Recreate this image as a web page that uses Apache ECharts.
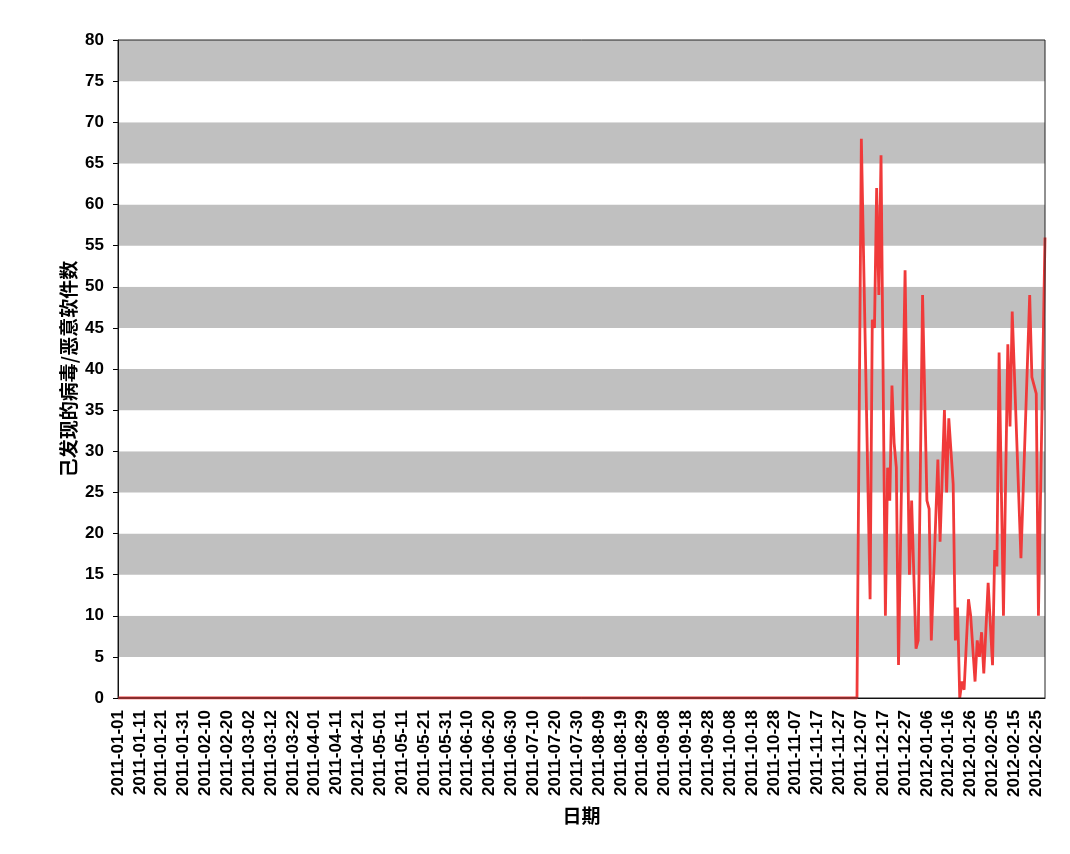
<!DOCTYPE html>
<html>
<head>
<meta charset="utf-8">
<script src="https://cdn.jsdelivr.net/npm/echarts@6/dist/echarts.min.js"></script>
<style>
  html, body { margin: 0; padding: 0; background: #ffffff; }
  #chart { width: 1070px; height: 854px; }
</style>
</head>
<body>
<div id="chart"></div>
<script>
// Axis range (daily categories)
const startDate = '2011-01-01';
const endDate = '2012-02-29';
const labelEveryDays = 10;

// Vertices of the line (date, count)
const pointDates = [
  '2011-01-01', '2011-12-05', '2011-12-07', '2011-12-11', '2011-12-12', '2011-12-13',
  '2011-12-14', '2011-12-15', '2011-12-16', '2011-12-18', '2011-12-19', '2011-12-20',
  '2011-12-21', '2011-12-22', '2011-12-23', '2011-12-24', '2011-12-27', '2011-12-29',
  '2011-12-30', '2012-01-01', '2012-01-02', '2012-01-04', '2012-01-06', '2012-01-07',
  '2012-01-08', '2012-01-11', '2012-01-12', '2012-01-14', '2012-01-15', '2012-01-16',
  '2012-01-18', '2012-01-19', '2012-01-20', '2012-01-21', '2012-01-22', '2012-01-23',
  '2012-01-25', '2012-01-26', '2012-01-28', '2012-01-29', '2012-01-30', '2012-01-31',
  '2012-02-01', '2012-02-03', '2012-02-05', '2012-02-06', '2012-02-07', '2012-02-08',
  '2012-02-10', '2012-02-12', '2012-02-13', '2012-02-14', '2012-02-18', '2012-02-22',
  '2012-02-23', '2012-02-25', '2012-02-26', '2012-02-29'
];
const pointValues = [
  0, 0, 68, 12, 46, 45,
  62, 49, 66, 10, 28, 24,
  38, 31, 28, 4, 52, 15,
  24, 6, 7, 49, 24, 23,
  7, 29, 19, 35, 25, 34,
  26, 7, 11, 0, 2, 1,
  12, 10, 2, 7, 5, 8,
  3, 14, 4, 18, 16, 42,
  10, 43, 33, 47, 17, 49,
  39, 37, 10, 56
];

// Y axis
const yMin = 0, yMax = 80, yStep = 5;
const yAxisName = '己发现的病毒/恶意软件数';
const xAxisName = '日期';

function buildDates(a, b) {
  const out = [];
  const d = new Date(a + 'T00:00:00Z');
  const end = new Date(b + 'T00:00:00Z');
  while (d <= end) {
    out.push(d.toISOString().slice(0, 10));
    d.setUTCDate(d.getUTCDate() + 1);
  }
  return out;
}
const categories = buildDates(startDate, endDate);
const seriesData = pointDates.map((d, i) => [d, pointValues[i]]);

const FONT = '"Liberation Sans", Arial, sans-serif';
const CJK = '"Noto Sans CJK SC", "Liberation Sans", sans-serif';

const chart = echarts.init(document.getElementById('chart'), null, { renderer: 'canvas' });
chart.setOption({
  animation: false,
  backgroundColor: '#ffffff',
  grid: {
    left: 118, right: 25, top: 40, bottom: 156,
    show: true, borderColor: '#222', borderWidth: 1, backgroundColor: 'transparent', z: 3
  },
  xAxis: {
    type: 'category',
    data: categories,
    boundaryGap: false,
    name: xAxisName,
    nameLocation: 'middle',
    nameGap: 108,
    nameMoveOverlap: false,
    nameTextStyle: { fontFamily: CJK, fontWeight: 'bold', fontSize: 19, color: '#000' },
    axisLine: { show: true, lineStyle: { color: '#000', width: 1 } },
    axisTick: { show: false },
    axisLabel: {
      interval: (i) => i % labelEveryDays === 0,
      rotate: 90,
      margin: 12,
      fontFamily: FONT, fontWeight: 'bold', fontSize: 17, color: '#000'
    },
    splitLine: { show: false }
  },
  yAxis: {
    type: 'value',
    min: yMin, max: yMax, interval: yStep,
    name: yAxisName,
    nameLocation: 'middle',
    nameGap: 40,
    nameMoveOverlap: false,
    nameRotate: 90,
    nameTextStyle: { fontFamily: CJK, fontWeight: 'bold', fontSize: 19, color: '#000' },
    axisLine: { show: true, lineStyle: { color: '#000', width: 1 } },
    axisTick: { show: true, length: 5, lineStyle: { color: '#000' } },
    axisLabel: { margin: 14, fontFamily: FONT, fontWeight: 'bold', fontSize: 17, color: '#000' },
    splitLine: { show: false },
    splitArea: { show: true, areaStyle: { color: ['#ffffff', '#c0c0c0'] } }
  },
  series: [{
    type: 'line',
    data: seriesData,
    showSymbol: false,
    symbol: 'none',
    lineStyle: { color: '#f03a3a', width: 2.8 },
    z: 2
  }]
});
</script>
</body>
</html>
